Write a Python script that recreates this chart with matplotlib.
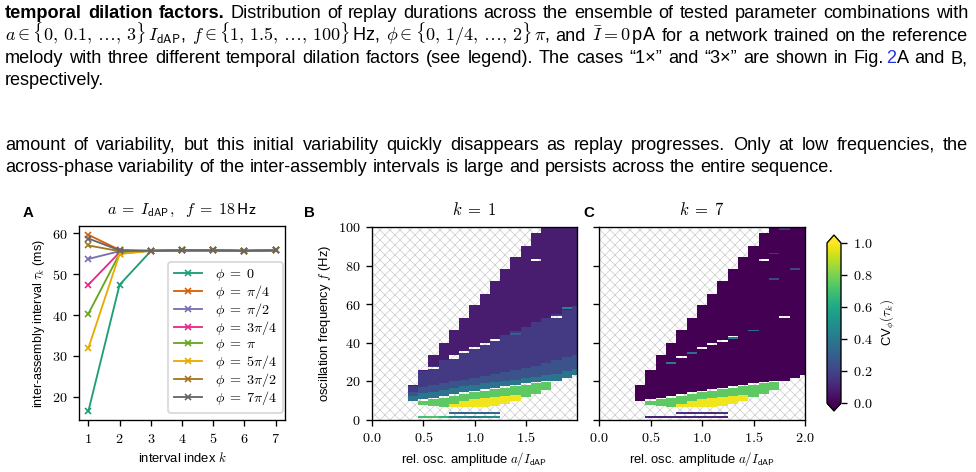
import numpy as np
import matplotlib
matplotlib.use("Agg")
import matplotlib.pyplot as plt
from matplotlib.patches import Rectangle
from matplotlib.ticker import FuncFormatter

W, H, DPI = 976, 472, 120

plt.rcParams["mathtext.fontset"] = "cm"
plt.rcParams["font.family"] = ["Liberation Sans", "DejaVu Sans"]
plt.rcParams["hatch.linewidth"] = 0.5
plt.rcParams["axes.linewidth"] = 0.8

# ---------------- panel A: inter-assembly intervals for the 8 phases
interval_k = [1, 2, 3, 4, 5, 6, 7]
phase_labels = [r"$\phi\;=\;0$", r"$\phi\;=\;\pi/4$", r"$\phi\;=\;\pi/2$", r"$\phi\;=\;3\pi/4$",
                r"$\phi\;=\;\pi$", r"$\phi\;=\;5\pi/4$", r"$\phi\;=\;3\pi/2$", r"$\phi\;=\;7\pi/4$"]
tau_phi_0 = [16.5, 47.4, 55.6, 55.8, 55.8, 55.7, 55.8]
tau_phi_1 = [59.6, 55.9, 55.7, 55.8, 55.9, 55.6, 55.9]
tau_phi_2 = [53.7, 55.6, 55.7, 55.8, 55.8, 55.7, 55.8]
tau_phi_3 = [47.4, 55.3, 55.7, 55.8, 55.8, 55.7, 55.8]
tau_phi_4 = [40.3, 55.0, 55.7, 55.8, 55.8, 55.7, 55.8]
tau_phi_5 = [31.9, 54.9, 55.7, 55.8, 55.8, 55.7, 55.8]
tau_phi_6 = [57.0, 55.6, 55.7, 55.8, 55.8, 55.7, 55.8]
tau_phi_7 = [58.7, 55.8, 55.7, 55.8, 55.8, 55.7, 55.8]
tau_series = [tau_phi_0, tau_phi_1, tau_phi_2, tau_phi_3,
              tau_phi_4, tau_phi_5, tau_phi_6, tau_phi_7]

# ---------------- panels B/C: region boundaries (Hz) per amplitude column
amp_cols    = [0.4, 0.5, 0.6, 0.7, 0.8, 0.9, 1.0, 1.1, 1.2, 1.3, 1.4, 1.5, 1.6, 1.7, 1.8, 1.9, 2.0]
f_top       = [17.5, 25.5, 33.2, 39.7, 46.3, 52.6, 59.1, 65.1, 71.8, 78.0, 84.1, 90.2, 96.7, 100, 100, 100, 100]
f_main_lo   = [9.7, 10.8, 11.5, 12.3, 13.3, 14.2, 15.0, 15.8, 16.5, 17.2, 18.0, 18.8, 19.5, 20.3, 20.5, 22.0, 23.5]
f_band_hi   = [9.7, 9.8, 10.5, 11.3, 12.3, 13.2, 14.0, 14.8, 15.5, 16.2, 17.0, 17.8, 18.5, 19.3, 20.5, 22.0, 23.5]
f_yellow_hi = [9.7, 8.0, 7.3, 7.0, 8.5, 9.8, 10.8, 11.3, 11.8, 12.3, 12.8, 12.0, 13.5, 15.5, 20.5, 22.0, 23.5]
f_bottom    = [9.7, 8.0, 7.3, 7.0, 6.8, 6.8, 7.0, 7.0, 7.5, 8.5, 10.0, 12.0, 13.5, 15.5, 20.5, 22.0, 23.5]
# k = 1 sub-bands inside the main region
k1_teal_hi  = [12.5, 13.8, 14.5, 15.3, 16.3, 17.2, 18.0, 18.8, 19.5, 20.2, 21.0, 21.8, 22.5, 23.3, 24.0, 25.5, 26.5]
k1_blue_hi  = [14.5, 17.0, 18.0, 19.0, 20.0, 21.0, 22.0, 23.0, 24.0, 25.0, 26.0, 27.0, 28.0, 29.5, 31.0, 32.5, 34.0]
k1_mid_hi   = [17.5, 25.5, 28.0, 31.0, 33.5, 36.0, 38.0, 40.0, 42.0, 44.0, 46.0, 48.5, 51.0, 53.0, 55.0, 57.0, 59.0]

# isolated cells (amplitude, frequency, CV); nan = no replay
k1_dashes = [(0.6, 27.0, np.nan), (0.8, 33.0, np.nan), (0.8, 31.8, np.nan), (0.9, 35.6, np.nan),
             (1.0, 37.4, np.nan), (1.1, 39.4, np.nan), (1.2, 41.4, np.nan), (1.6, 83.0, np.nan),
             (1.8, 53.4, np.nan), (1.9, 58.0, 0.45), (1.4, 44.5, 0.3)]
k7_dashes = [(0.7, 29.7, 0.4), (0.8, 32.5, np.nan), (0.9, 35.2, 0.35), (1.0, 37.3, np.nan),
             (1.1, 39.4, np.nan), (1.2, 41.1, np.nan), (1.3, 43.2, np.nan), (1.3, 42.5, 0.4),
             (1.5, 46.6, 0.35), (1.6, 83.0, np.nan), (1.8, 53.4, np.nan), (1.7, 86.4, 0.15),
             (1.7, 73.0, 0.2), (1.9, 78.4, 0.2), (1.8, 99.0, 0.15)]
# low-frequency stripe
k1_stripe = [(0.5, 1.0, 0.7), (0.6, 1.0, 0.72), (0.7, 1.0, 0.65), (0.8, 1.0, 0.45), (0.9, 1.0, 0.45),
             (1.0, 1.0, 0.4), (1.1, 1.0, 0.45), (1.2, 1.0, 0.5), (0.8, 3.0, 0.35), (0.9, 3.0, 0.3),
             (1.0, 3.0, 0.35), (1.1, 3.0, 0.3), (1.2, 3.0, 0.35)]
k7_stripe = [(0.5, 1.0, 0.1), (0.6, 1.0, 0.1), (0.7, 1.0, 0.12), (0.8, 1.0, 0.1), (0.9, 1.0, 0.12),
             (1.0, 1.0, 0.1), (1.1, 1.0, 0.12), (1.2, 1.0, 0.1), (0.8, 3.0, 0.15), (0.9, 3.0, 0.12),
             (1.0, 3.0, 0.15), (1.1, 3.0, 0.12), (1.2, 3.0, 0.15)]

a_centers = np.arange(21) / 10
f_centers = np.arange(1, 100.25, 0.5)
a_edges = np.append(a_centers - 0.05, a_centers[-1] + 0.05)
f_edges = np.append(f_centers - 0.25, f_centers[-1] + 0.25)


def build_grid(bands, dashes, stripe):
    grid = np.full((f_centers.size, a_centers.size), np.nan)
    for j, a in enumerate(amp_cols):
        col = int(round(a * 10))
        for lo, hi, v in bands:
            sel = (f_centers >= lo[j]) & (f_centers <= hi[j])
            grid[sel, col] = v
    for a, f, v in dashes:
        col, row = int(round(a * 10)), int(round((f - 1) / 0.5))
        grid[row - 1:row + 1, col] = v
    for a, f, v in stripe:
        col, row = int(round(a * 10)), int(round((f - 1) / 0.5))
        grid[row:row + 2, col] = v
    return grid


grid_k1 = build_grid([(f_bottom, f_yellow_hi, 0.98), (f_yellow_hi, f_band_hi, 0.75),
                      (f_main_lo, k1_teal_hi, 0.38), (k1_teal_hi, k1_blue_hi, 0.25),
                      (k1_blue_hi, k1_mid_hi, 0.17), (k1_mid_hi, f_top, 0.08)],
                     k1_dashes, k1_stripe)
grid_k7 = build_grid([(f_bottom, f_yellow_hi, 0.98), (f_yellow_hi, f_band_hi, 0.75),
                      (f_main_lo, f_top, 0.0)],
                     k7_dashes, k7_stripe)

fig = plt.figure(figsize=(W / DPI, H / DPI), dpi=DPI)


def fr(l, t, r, b):
    return [l / W, 1 - b / H, (r - l) / W, (b - t) / H]


fs = 7.8
tfs = 8.5
math_int = FuncFormatter(lambda v, p: r"$%d$" % v)
math_1f = FuncFormatter(lambda v, p: r"$%.1f$" % v)

# ---------------- panel A
axA = fig.add_axes(fr(79, 226, 285, 420))
colors = plt.get_cmap("Dark2").colors
for vals, lab, c in zip(tau_series, phase_labels, colors):
    axA.plot(interval_k, vals, marker="x", ms=3.5, mew=1.0, lw=1.1, color=c, label=lab)
axA.set_xticks(interval_k)
axA.set_yticks([20, 30, 40, 50, 60])
axA.xaxis.set_major_formatter(math_int)
axA.yaxis.set_major_formatter(math_int)
axA.tick_params(labelsize=tfs, length=3.5, width=0.8)
axA.set_xlabel(r"interval index $k$", fontsize=fs, labelpad=3)
axA.set_ylabel(r"inter-assembly interval $\tau_k$ (ms)", fontsize=7.5, labelpad=3)
axA.set_title(r"$a\;=\;I_\mathsf{dAP},\ \ f\;=\;18\,\mathsf{Hz}$", fontsize=9.5, pad=7)
axA.legend(loc="lower right", bbox_to_anchor=(0.99, 0.036), borderaxespad=0,
           fontsize=8.5, labelspacing=0.0, handlelength=2.0, borderpad=0.4,
           handletextpad=0.9)

# ---------------- panels B and C
axB = fig.add_axes(fr(372, 227, 577, 419.5))
axC = fig.add_axes(fr(599, 227, 805, 419.5))
mesh = None
for ax, grid, title in [(axB, grid_k1, r"$k\;=\;1$"), (axC, grid_k7, r"$k\;=\;7$")]:
    ax.add_patch(Rectangle((0, 0), 1, 1, transform=ax.transAxes, facecolor="white",
                           edgecolor="#d2d2d2", hatch="xxxx", lw=0, zorder=0))
    mesh = ax.pcolormesh(a_edges, f_edges, grid, cmap="viridis", vmin=0, vmax=1, zorder=1)
    ax.set_xlim(0, 2)
    ax.set_ylim(0, 100)
    ax.set_yticks([0, 20, 40, 60, 80, 100])
    ax.yaxis.set_major_formatter(math_int)
    ax.xaxis.set_major_formatter(math_1f)
    ax.tick_params(labelsize=tfs, length=3.5, width=0.8)
    ax.set_xlabel(r"rel. osc. amplitude $a/I_\mathsf{dAP}$", fontsize=fs, labelpad=3)
    ax.set_title(title, fontsize=10, pad=7)
axB.set_xticks([0, 0.5, 1.0, 1.5])
axB.set_ylabel(r"oscillation frequency $f$ (Hz)", fontsize=fs, labelpad=3)
axC.set_xticks([0, 0.5, 1.0, 1.5, 2.0])
axC.tick_params(labelleft=False)

cax = fig.add_axes(fr(827, 235, 841, 411))
cb = fig.colorbar(mesh, cax=cax, extend="both")
cb.set_ticks([0, 0.2, 0.4, 0.6, 0.8, 1.0])
cb.ax.yaxis.set_major_formatter(math_1f)
cb.ax.tick_params(labelsize=tfs, length=3.5, width=0.8)
cb.outline.set_linewidth(0.8)
cb.set_label(r"CV$_\phi(\tau_k)$", fontsize=fs, labelpad=4)

for lab, x in [("A", 23), ("B", 304), ("C", 583)]:
    fig.text(x / W, 1 - 217 / H, lab, fontsize=9, fontweight="bold", va="baseline")

# ---------------- surrounding page text
BLUE = "#2335e6"


def words_of(s, **kw):
    return [[(w, kw, 0)] for w in s.split(" ")]


line1 = words_of("temporal dilation factors.", fontweight="bold") + \
    words_of("Distribution of replay durations across the ensemble of tested parameter combinations with")
line2 = [[(r"$a \in \{0,\,0.1,\,\ldots,\,3\}\,I_\mathsf{dAP}$,", {}, 0)],
         [(r"$f \in \{1,\,1.5,\,\ldots,\,100\}\,$Hz,", {}, 0)],
         [(r"$\phi \in \{0,\,1/4,\,\ldots,\,2\}\,\pi$,", {}, 0)],
         [("and", {}, 0)], [(r"$\bar{I} = 0\,$pA", {}, 0)]] + \
    words_of("for a network trained on the reference")
line3 = words_of("melody with three different temporal dilation factors (see legend). The cases") + \
    [[("“1×”", {}, 0)], [("and", {}, 0)], [("“3×”", {}, 0)]] + \
    words_of("are shown in") + \
    [[("Fig.", {}, 0), ("2", {"color": BLUE}, 2.5), ("A", {}, 0)]] + words_of("and B,")
line4 = words_of("respectively.")
line5 = words_of("amount of variability, but this initial variability quickly disappears as replay "
                 "progresses. Only at low frequencies, the")
line6 = words_of("across-phase variability of the inter-assembly intervals is large and persists "
                 "across the entire sequence.")

renderer = fig.canvas.get_renderer()
X0, X1 = 5, 968


def make_texts(words, size):
    out = []
    for word in words:
        row = []
        for text, kw, gap in word:
            t = fig.text(0, 0, text, fontsize=size, va="baseline", ha="left", **kw)
            row.append([t, t.get_window_extent(renderer).width, gap])
        out.append(row)
    return out


def natural_width(words, size):
    objs = make_texts(words, size)
    total = sum(w + g for row in objs for _, w, g in row)
    for row in objs:
        for t, _, _ in row:
            t.remove()
    return total + (len(words) - 1) * 0.28 * size * DPI / 72


base = 10.0
scale = min((X1 - X0) / natural_width(ln, base) for ln in (line1, line5))
body = base * scale * 0.985


def draw_line(words, y, justify):
    size = body
    if justify:
        fit = (X1 - X0) / natural_width(words, body) * 1.02
        size = min(body, body * fit)
    objs = make_texts(words, size)
    total = sum(w + g for row in objs for _, w, g in row)
    space = 0.28 * size * DPI / 72
    if justify and len(objs) > 1:
        space = (X1 - X0 - total) / (len(objs) - 1)
    x = X0
    for row in objs:
        for t, w, g in row:
            x += g
            t.set_position((x / W, 1 - y / H))
            x += w
        x += space


draw_line(line1, 18.5, True)
draw_line(line2, 40.8, True)
draw_line(line3, 63.1, True)
draw_line(line4, 85.4, False)
draw_line(line5, 149.5, True)
draw_line(line6, 171.8, False)

fig.savefig("out.png", dpi=DPI, facecolor="white")
